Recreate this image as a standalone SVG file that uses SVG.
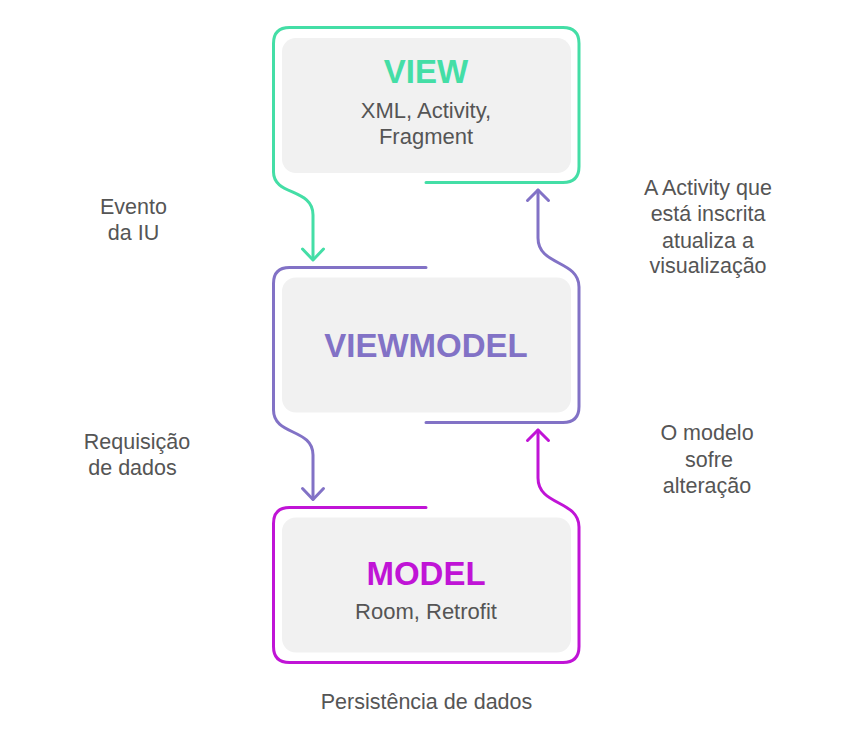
<svg xmlns="http://www.w3.org/2000/svg" width="862" height="742" viewBox="0 0 862 742">
<style>
.bg{fill:#f1f1f1}
.ln{fill:none;stroke-width:3;stroke-linecap:round;stroke-linejoin:round}
.g{stroke:#44dea6}.p{stroke:#8272c6}.m{stroke:#c014d6}
.t{font-family:"Liberation Sans",Arial,sans-serif;text-anchor:middle}
.title{font-size:33px;font-weight:bold}
.sub{font-size:22px;fill:#555}
.lab{font-size:21.5px;fill:#555}
</style>
<rect width="862" height="742" fill="#fff"/>
<g id="view">
<rect class="bg" x="282" y="38" width="289" height="135" rx="14"/>
<text class="t title" x="426" y="83" fill="#44dea6">VIEW</text>
<text class="t sub" x="426" y="118">XML, Activity,</text>
<text class="t sub" x="426" y="144">Fragment</text>
</g>
<g id="viewmodel">
<rect class="bg" x="282" y="277.5" width="289" height="135" rx="14"/>
<text class="t title" x="426" y="357" fill="#8272c6">VIEWMODEL</text>
</g>
<g id="model">
<rect class="bg" x="282" y="517.5" width="289" height="135" rx="14"/>
<text class="t title" x="426" y="585" fill="#c014d6">MODEL</text>
<text class="t sub" x="426" y="619">Room, Retrofit</text>
</g>
<g id="connectors">
<path class="ln g" d="M426,182.5 H563 Q579,182.5 579,166.5 V43.5 Q579,27.5 563,27.5 H289.5 Q273.5,27.5 273.5,43.5 V172 C273.5,196 313,188 313,215 V259"/>
<polyline class="ln g" points="302.5,249 313,260 323.5,249"/>
<path class="ln p" d="M426,267.5 H289.5 Q273.5,267.5 273.5,283.5 V410 C273.5,436 313,428 313,455 V499"/>
<polyline class="ln p" points="302.5,488.5 313,499.5 323.5,488.5"/>
<path class="ln p" d="M426,422.5 H563 Q579,422.5 579,406.5 V287 C579,260 538,266 538,238 V190"/>
<polyline class="ln p" points="527.5,200.5 538,190 548.5,200.5"/>
<path class="ln m" d="M426,507.5 H289.5 Q273.5,507.5 273.5,523.5 V646.5 Q273.5,662.5 289.5,662.5 H563 Q579,662.5 579,646.5 V527 C579,500 538,506 538,478 V430"/>
<polyline class="ln m" points="527.5,440.5 538,430 548.5,440.5"/>
</g>
<g id="labels">
<text class="t lab" x="133.5" y="214">Evento</text>
<text class="t lab" x="133.5" y="240">da IU</text>
<text class="t lab" x="708" y="195">A Activity que</text>
<text class="t lab" x="708" y="221">está inscrita</text>
<text class="t lab" x="708" y="247.5">atualiza a</text>
<text class="t lab" x="708" y="273">visualização</text>
<text class="t lab" x="137" y="449">Requisição</text>
<text class="t lab" x="132.5" y="475">de dados</text>
<text class="t lab" x="707" y="440">O modelo</text>
<text class="t lab" x="709" y="466.5">sofre</text>
<text class="t lab" x="707" y="492.5">alteração</text>
<text class="t lab" x="426.5" y="709">Persistência de dados</text>
</g>
</svg>
